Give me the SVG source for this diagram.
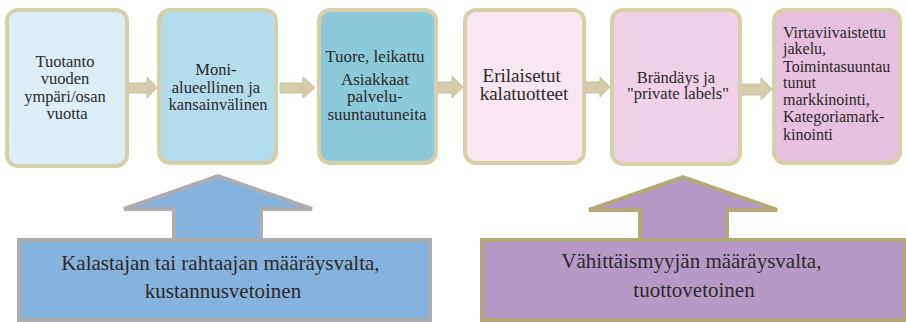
<svg xmlns="http://www.w3.org/2000/svg" width="906" height="322" viewBox="0 0 906 322">
  <style>
    .box { stroke: #d5cfaa; stroke-width: 4; }
    .flow { fill: #d4cdab; stroke: #c9c19c; stroke-width: 1; }
    text { font-family: "Liberation Serif", "DejaVu Serif", serif; fill: #2a2a2a; }
    .c { text-anchor: middle; }
  </style>

  <!-- connectors between stages -->
  <g id="connectors">
    <path class="flow" d="M129,83 H147 V77 L157,87.5 L147,98 V93 H129 Z"/>
    <path class="flow" d="M280,83 H303 V77 L315,87.5 L303,98 V93 H280 Z"/>
    <path class="flow" d="M438,82 H452 V76 L463,87 L452,98 V93 H438 Z"/>
    <path class="flow" d="M586,82 H600 V77 L610,87 L600,97 V93 H586 Z"/>
    <path class="flow" d="M742,84 H761 V78 L772,89 L761,100 V95 H742 Z"/>
  </g>

  <g id="stage1">
    <rect class="box" x="7" y="10" width="120" height="156" rx="11" fill="#ddeef7"/>
    <text class="c" font-size="16.5">
      <tspan x="67" y="67">Tuotanto</tspan>
      <tspan x="67" y="84">vuoden</tspan>
      <tspan x="67" y="102">ympäri/osan</tspan>
      <tspan x="67" y="119">vuotta</tspan>
    </text>
  </g>

  <g id="stage2">
    <rect class="box" x="159" y="10" width="117" height="153" rx="11" fill="#b3dcee"/>
    <text class="c" font-size="16.5">
      <tspan x="218" y="75">Moni-</tspan>
      <tspan x="218" y="93">alueellinen ja</tspan>
      <tspan x="218" y="110">kansainvälinen</tspan>
    </text>
  </g>

  <g id="stage3">
    <rect class="box" x="319" y="10" width="117" height="153" rx="11" fill="#8ccadb"/>
    <text class="c" font-size="17">
      <tspan x="377" y="62">Tuore, leikattu</tspan>
      <tspan x="377" y="85">Asiakkaat</tspan>
      <tspan x="377" y="102">palvelu-</tspan>
      <tspan x="377" y="120">suuntautuneita</tspan>
    </text>
  </g>

  <g id="stage4">
    <rect class="box" x="465" y="10" width="119" height="153" rx="11" fill="#f8e6f1"/>
    <text class="c" font-size="19">
      <tspan x="524" y="82">Erilaisetut</tspan>
      <tspan x="524" y="100">kalatuotteet</tspan>
    </text>
  </g>

  <g id="stage5">
    <rect class="box" x="612" y="10" width="128" height="154" rx="11" fill="#efd0e6"/>
    <text class="c" font-size="16.5">
      <tspan x="678" y="83">Brändäys ja</tspan>
      <tspan x="678" y="99">"private labels"</tspan>
    </text>
  </g>

  <g id="stage6">
    <rect class="box" x="774" y="10" width="126" height="153" rx="11" fill="#e6c0dc"/>
    <text font-size="16">
      <tspan x="783" y="38">Virtaviivaistettu</tspan>
      <tspan x="783" y="54">jakelu,</tspan>
      <tspan x="783" y="72">Toimintasuuntau</tspan>
      <tspan x="783" y="88">tunut</tspan>
      <tspan x="783" y="105">markkinointi,</tspan>
      <tspan x="783" y="122">Kategoriamark-</tspan>
      <tspan x="783" y="140">kinointi</tspan>
    </text>
  </g>

  <g id="producer-power">
    <path d="M174,240 V209 H124 L218,176 L312,209 H261 V240" fill="#86b2de" stroke="#acadb1" stroke-width="4"/>
    <rect x="19" y="240" width="411" height="80" fill="#86b2de" stroke="#acadb1" stroke-width="4"/>
    <text class="c" font-size="21">
      <tspan x="223" y="270">Kalastajan tai rahtaajan määräysvalta,</tspan>
      <tspan x="223" y="298">kustannusvetoinen</tspan>
    </text>
  </g>

  <g id="retailer-power">
    <path d="M640,240 V210 H589 L683,177 L777,210 H727 V240" fill="#b59ac7" stroke="#b3a978" stroke-width="4"/>
    <rect x="482" y="240" width="422" height="80" fill="#b59ac7" stroke="#b3a978" stroke-width="4"/>
    <text class="c" font-size="21">
      <tspan x="694" y="268">Vähittäismyyjän määräysvalta,</tspan>
      <tspan x="694" y="297">tuottovetoinen</tspan>
    </text>
  </g>
</svg>
